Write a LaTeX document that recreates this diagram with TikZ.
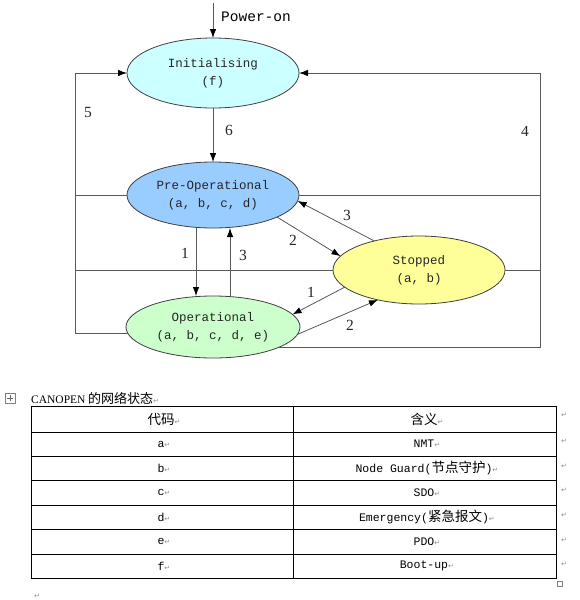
\documentclass[tikz,border=0pt]{standalone}
\usepackage{fontspec}
\setmainfont{Liberation Serif}
\setmonofont{Liberation Mono}
\newfontfamily\cjk{Noto Sans CJK SC}
\newfontfamily\symf{DejaVu Sans}
\usetikzlibrary{shapes.geometric,arrows.meta}
\definecolor{initc}{HTML}{CCFFFF}
\definecolor{prec}{HTML}{99CCFF}
\definecolor{opc}{HTML}{CCFFCC}
\definecolor{stc}{HTML}{FFFF99}
\newcommand{\retmark}{{\symf\color{black!45}\fontsize{7}{7}\selectfont ↵}}
\newcommand{\rr}{\rlap{\retmark}}
\begin{document}
\begin{tikzpicture}[x=1pt,y=-1pt,
  state/.style={ellipse, draw=black!75, line width=0.8pt, inner sep=0pt, outer sep=0pt, align=center,
    font=\ttfamily\fontsize{12.5}{18}\selectfont, text=black!85},
  ln/.style={draw=black!65, line width=0.8pt},
  arr/.style={ln, -{Latex[length=9pt,width=6.5pt,color=black]}},
  num/.style={font=\fontsize{15.5}{15.5}\selectfont, inner sep=0pt, text=black!85},
  cell/.style={font=\ttfamily\fontsize{11.5}{14}\selectfont, inner sep=0pt},
  hcell/.style={font=\cjk\fontsize{13.5}{14}\selectfont, inner sep=0pt},
  tl/.style={draw=black, line width=0.9pt},
  retn/.style={inner sep=0pt}]
\useasboundingbox (0,0) rectangle (580,600);
\fill[white] (0,0) rectangle (580,600);

% states
\node[state, fill=initc, minimum width=172pt, minimum height=70pt] (init) at (213,73) {Initialising\\(f)};
\node[state, fill=prec, minimum width=172pt, minimum height=66pt] (pre) at (213,195) {Pre-Operational\\(a, b, c, d)};
\node[state, fill=opc, minimum width=174pt, minimum height=62pt] (op) at (213,327) {Operational\\(a, b, c, d, e)};
\node[state, fill=stc, minimum width=172pt, minimum height=68pt] (st) at (419,270) {Stopped\\(a, b)};

% power-on
\coordinate (pw) at (213,3);
\draw[arr] (pw) -- (init.north);
\node[anchor=west, font=\ttfamily\fontsize{14.5}{14.5}\selectfont, inner sep=0pt] (pwl) at (221,17) {Power-on};

% frame lines
\coordinate (L1) at (75,73);
\coordinate (R1) at (540,73);
\draw[arr] (op.184) -| (L1) -- (init.west);
\draw[arr] (op.-17) -| (R1) -- (init.east);
\draw[ln] (pre.west) -- (pre.west -| L1);
\draw[ln] (pre.east) -- (pre.east -| R1);
\draw[ln] (st.west) -- (st.west -| L1);
\draw[ln] (st.east) -- (st.east -| R1);

% transitions
\draw[arr] (init.south) -- (pre.north);
\draw[arr] ([xshift=-17pt]pre.south) -- ([xshift=-17pt]op.north);
\draw[arr] ([xshift=17pt]op.north) -- ([xshift=17pt]pre.south);
\draw[arr] (pre.-19.5) -- (st.170);
\draw[arr] (st.147) -- (pre.-4);
\draw[arr] (st.193) -- (op.9);
\draw[arr] (op.-5.4) -- (st.216);

% labels
\node[num] (n5) at (88,112) {5};
\node[num] (n4) at (525,131) {4};
\node[num] (n6) at (229,130) {6};
\node[num] (n1a) at (185,253) {1};
\node[num] (n3a) at (243,255) {3};
\node[num] (n2a) at (293,240) {2};
\node[num] (n3b) at (347,215) {3};
\node[num] (n1b) at (311,292) {1};
\node[num] (n2b) at (350,325) {2};

% table title
\draw[black!50, line width=0.6pt] (5,393) rectangle (15,403);
\draw[black!60, line width=0.6pt] (10,395) -- (10,401) (7,398) -- (13,398);
\node[anchor=west, inner sep=0pt] (title) at (31,398) {{\fontsize{11.5}{12}\selectfont CANOPEN} {\cjk\fontsize{13}{13}\selectfont 的网络状态}\retmark};

% table
\draw[tl] (31,406) rectangle (556,578);
\draw[tl] (293,406) -- (293,578);
\foreach \yy in {432,456,480,505,529,554} { \draw[tl] (31,\yy) -- (556,\yy); }

\node[hcell] (h1) at (161,419) {代码\rr};
\node[hcell] (h2) at (424,419) {含义\rr};
\node[cell] (a1) at (161,444) {a\rr};
\node[cell] (a2) at (424,444) {NMT\rr};
\node[cell] (b1) at (161,468) {b\rr};
\node[cell] (b2) at (424,468) {Node Guard({\cjk\fontsize{13.5}{14}\selectfont 节点守护})\rr};
\node[cell] (c1) at (161,492.5) {c\rr};
\node[cell] (c2) at (424,492.5) {SDO\rr};
\node[cell] (d1) at (161,517) {d\rr};
\node[cell] (d2) at (424,517) {Emergency({\cjk\fontsize{13.5}{14}\selectfont 紧急报文})\rr};
\node[cell] (e1) at (161,541.5) {e\rr};
\node[cell] (e2) at (424,541.5) {PDO\rr};
\node[cell] (f1) at (161,566) {f\rr};
\node[cell] (f2) at (424,566) {Boot-up\rr};

% paragraph marks at right of rows
\foreach \yy/\nm in {415/r1,441/r2,466/r3,490/r4,515/r5,540/r6,564/r7} {
  \node[retn] (\nm) at (564,\yy) {\retmark};
}
\node[retn] (rb) at (37,596) {\retmark};
\draw[black!50, line width=0.5pt] (557,581) rectangle (562,586);
\end{tikzpicture}
\end{document}
